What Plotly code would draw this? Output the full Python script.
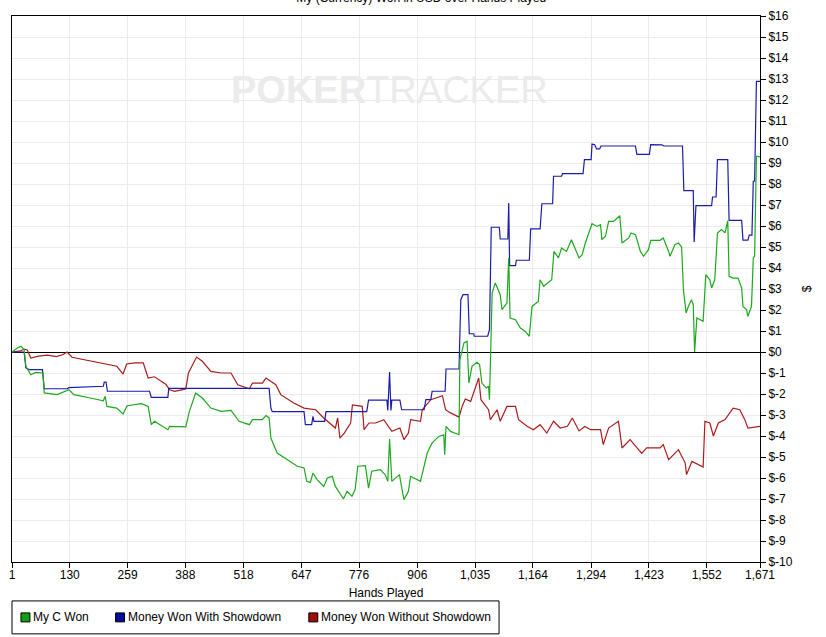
import plotly.graph_objects as go

# Hands played (x) and money won ($) per series
hands_total = [1, 13, 21, 28, 32, 43, 54, 65, 70, 73, 102, 128, 139, 176, 205, 209, 213, 235, 249, 258,
               290, 305, 312, 319, 349, 353, 367, 389, 397, 411, 426, 445, 468, 490, 508, 531, 538, 560,
               568, 575, 579, 593, 616, 638, 653, 659, 667, 673, 682, 697, 705, 716, 723, 741, 749, 760,
               767, 773, 790, 797, 804, 823, 834, 840, 844, 849, 866, 876, 886, 891, 913, 921, 928, 939,
               954, 965, 967, 970, 980, 999, 1001, 1010, 1017, 1021, 1028, 1039, 1045, 1050, 1060, 1065,
               1067, 1073, 1080, 1091, 1095, 1106, 1110, 1113, 1125, 1136, 1147, 1156, 1162, 1176, 1180,
               1188, 1206, 1211, 1221, 1228, 1239, 1250, 1259, 1267, 1274, 1281, 1296, 1307, 1315, 1318,
               1326, 1333, 1344, 1358, 1363, 1378, 1383, 1393, 1404, 1411, 1422, 1427, 1448, 1455, 1467,
               1470, 1481, 1489, 1496, 1500, 1506, 1511, 1518, 1522, 1525, 1530, 1544, 1550, 1559, 1563,
               1570, 1576, 1585, 1593, 1599, 1602, 1611, 1622, 1630, 1633, 1641, 1644, 1652, 1656, 1659,
               1663, 1671]
won_total = [0, 0.19, 0.27, 0.11, -0.68, -1.08, -0.97, -1.0, -1.0, -1.95, -2.03, -1.79, -2.03, -2.19,
             -2.32, -2.11, -2.59, -2.67, -2.95, -2.56, -2.46, -2.59, -3.46, -3.3, -3.7, -3.54, -3.54,
             -3.57, -2.83, -1.95, -2.19, -2.67, -2.83, -2.78, -3.3, -3.46, -3.22, -3.22, -3.03, -3.14,
             -4.1, -4.81, -5.13, -5.44, -5.52, -6.16, -6.21, -5.76, -6.08, -6.4, -6.0, -5.92, -6.4, -7.0,
             -6.63, -6.87, -6.56, -5.44, -5.41, -6.48, -5.68, -5.6, -5.84, -6.16, -4.14, -6.16, -5.84,
             -7.03, -6.63, -5.92, -6.16, -5.44, -4.81, -4.33, -4.02, -3.94, -4.89, -3.54, -3.78, -3.94,
             -0.37, 0.43, 0.51, -1.48, -0.68, -0.49, -0.6, -1.48, -1.71, -1.63, -2.27, 2.81, 3.29, 2.73,
             2.02, 2.33, 4.48, 1.62, 1.54, 1.14, 0.98, 0.75, 2.17, 2.41, 3.44, 3.13, 3.44, 4.79, 4.48,
             4.95, 4.79, 5.35, 4.87, 4.48, 4.63, 5.19, 6.11, 5.98, 6.06, 5.35, 5.51, 6.22, 6.22, 6.49,
             5.19, 5.43, 5.67, 5.59, 4.79, 4.56, 4.87, 5.32, 5.32, 5.43, 4.79, 4.56, 5.11, 5.19, 5.0,
             2.97, 1.86, 2.17, 2.49, 2.25, 0.0, 1.62, 1.46, 3.68, 3.44, 3.05, 3.44, 5.67, 5.83, 5.67,
             6.25, 3.6, 3.52, 3.52, 3.05, 2.17, 2.02, 1.7, 2.17, 4.48, 4.56, 9.32, 9.29]

hands_sd = [1, 28, 32, 39, 69, 73, 124, 128, 205, 207, 211, 214, 308, 312, 349, 351, 575, 579, 582, 653,
            656, 670, 673, 675, 699, 702, 793, 797, 838, 840, 844, 847, 849, 867, 871, 921, 925, 936,
            939, 968, 970, 999, 1003, 1008, 1019, 1022, 1032, 1033, 1063, 1067, 1071, 1089, 1091, 1108,
            1110, 1112, 1125, 1127, 1156, 1159, 1180, 1184, 1208, 1210, 1228, 1230, 1276, 1279, 1294,
            1296, 1302, 1306, 1313, 1316, 1393, 1396, 1424, 1427, 1452, 1457, 1498, 1501, 1522, 1524,
            1528, 1563, 1565, 1573, 1576, 1599, 1602, 1630, 1633, 1644, 1647, 1653, 1656, 1659, 1663,
            1671]
won_sd = [0, 0, -0.76, -0.84, -0.84, -1.75, -1.75, -1.7, -1.63, -1.43, -1.43, -1.87, -1.87, -2.16,
          -2.16, -1.73, -1.73, -2.67, -2.84, -2.84, -3.46, -3.46, -3.06, -3.3, -3.3, -2.84, -2.84,
          -2.29, -2.29, -2.78, -0.95, -2.78, -2.29, -2.29, -2.75, -2.75, -2.27, -2.27, -1.87, -1.87,
          -0.81, -0.81, 2.49, 2.73, 2.73, 0.87, 0.87, 0.75, 0.75, 1.06, 5.94, 5.94, 5.38, 5.38, 7.1,
          4.11, 4.11, 4.37, 4.37, 5.86, 5.86, 7.06, 7.06, 8.37, 8.37, 8.49, 8.49, 9.16, 9.16, 9.9,
          9.87, 9.67, 9.67, 9.81, 9.81, 9.41, 9.41, 9.87, 9.86, 9.81, 9.81, 7.68, 7.68, 5.24, 6.97,
          6.97, 7.38, 7.38, 9.16, 9.16, 6.27, 6.27, 5.33, 5.33, 5.57, 5.57, 8.13, 8.13, 12.89, 12.89]

hands_nsd = [1, 20, 28, 35, 43, 60, 80, 100, 115, 124, 135, 160, 176, 205, 235, 249, 257, 275, 294,
             305, 319, 345, 353, 364, 389, 395, 413, 426, 445, 468, 490, 505, 531, 538, 560, 568, 590,
             601, 630, 653, 679, 697, 716, 723, 728, 733, 743, 757, 761, 783, 787, 798, 813, 824, 831,
             849, 867, 876, 886, 891, 913, 917, 936, 962, 969, 980, 999, 1006, 1013, 1025, 1043, 1048,
             1065, 1069, 1084, 1091, 1106, 1125, 1132, 1151, 1165, 1180, 1195, 1210, 1225, 1241, 1252,
             1267, 1280, 1293, 1315, 1321, 1333, 1355, 1363, 1381, 1407, 1418, 1448, 1455, 1467, 1489,
             1504, 1507, 1519, 1544, 1548, 1559, 1567, 1578, 1593, 1611, 1626, 1637, 1644, 1671]
won_nsd = [0, 0.05, 0.14, 0.1, -0.29, -0.2, -0.15, -0.22, -0.12, 0.0, -0.25, -0.35, -0.45, -0.55,
           -0.68, -1.05, -0.57, -0.52, -0.52, -1.24, -1.18, -1.55, -1.8, -1.87, -1.76, -1.0, -0.24,
           -0.44, -0.92, -1.0, -1.0, -1.56, -1.75, -1.48, -1.48, -1.24, -1.56, -2.03, -2.43, -2.67,
           -2.75, -3.14, -3.46, -3.62, -3.14, -4.1, -3.86, -3.38, -2.52, -2.59, -3.7, -3.38, -3.38,
           -3.3, -3.22, -3.78, -3.62, -4.17, -3.86, -3.22, -3.3, -2.75, -2.27, -2.08, -2.75, -2.9,
           -3.1, -2.59, -2.24, -2.35, -1.24, -2.27, -2.75, -3.22, -2.75, -3.3, -2.59, -2.59, -3.22,
           -3.54, -3.7, -3.46, -3.86, -3.3, -3.62, -3.54, -3.14, -3.76, -3.55, -3.7, -3.7, -4.41,
           -3.62, -3.3, -4.57, -4.17, -4.83, -4.57, -4.57, -4.41, -5.13, -4.65, -5.29, -5.84, -5.21,
           -5.48, -3.3, -3.38, -4.0, -3.38, -3.22, -2.67, -2.75, -3.22, -3.62, -3.54]

x_ticks = [1, 130, 259, 388, 518, 647, 776, 906, 1035, 1164, 1294, 1423, 1552, 1671]
y_ticks = list(range(-10, 17))
y_labels = [f"${v}" for v in y_ticks]

GREEN = "#1DA81D"
BLUE = "#1C1CAA"
RED = "#AA1C1C"
FONT = "Liberation Sans, Arial, sans-serif"

# name, x, y, line colour, legend swatch colour
series = [
    ("My C Won", hands_total, won_total, GREEN, "#11A011"),
    ("Money Won With Showdown", hands_sd, won_sd, BLUE, "#0C0C9A"),
    ("Money Won Without Showdown", hands_nsd, won_nsd, RED, "#A00C0C"),
]

W, H = 826, 637
L, R, T, B = 9, 66, 15, 75
PW, PH = W - L - R, H - T - B


def px(x):
    return (x - L) / PW


def py(y):
    return (H - B - y) / PH


fig = go.Figure()

# draw order: red, blue, green on top
for name, xs, ys, col, _ in [series[2], series[1], series[0]]:
    fig.add_trace(go.Scatter(x=xs, y=ys, mode="lines", name=name,
                             line=dict(color=col, width=1.2), showlegend=False))

# watermark
fig.add_annotation(text="<b>POKER</b>TRACKER", xref="paper", yref="paper",
                   x=px(388), y=py(66), showarrow=False,
                   font=dict(family="Liberation Sans, Arial", size=38, color="#EBEBEB"))

# hand-built legend box (square swatches, tight spacing)
shapes = [dict(type="rect", xref="paper", yref="paper", x0=px(9), x1=px(498),
               y0=py(634), y1=py(601), line=dict(color="black", width=1), fillcolor="white")]
legend_x = [18, 113, 307]
for (name, _, _, _, sw), lx in zip(series, legend_x):
    shapes.append(dict(type="rect", xref="paper", yref="paper", x0=px(lx), x1=px(lx + 9),
                       y0=py(622), y1=py(613), line=dict(color="black", width=1), fillcolor=sw))
    fig.add_annotation(text=name, xref="paper", yref="paper", x=px(lx + 10), y=py(617.5),
                       xanchor="left", yanchor="middle", showarrow=False,
                       font=dict(size=12, color="black"))

fig.update_layout(
    width=W, height=H,
    margin=dict(l=L, r=R, t=T, b=B),
    paper_bgcolor="white", plot_bgcolor="white",
    font=dict(family=FONT, size=12, color="black"),
    title=dict(text="My (Currency) Won in USD over Hands Played", x=0.51, xanchor="center",
               xref="container", y=0.9975, yref="container", yanchor="bottom",
               font=dict(size=12, color="black")),
    xaxis=dict(range=[1, 1671], tickvals=x_ticks, tickformat=",", showgrid=True,
               gridcolor="#EBEBEB", gridwidth=1, zeroline=False, showline=True,
               linecolor="black", linewidth=1, mirror=True, ticks="outside",
               ticklen=5, tickcolor="black", ticklabelstandoff=-3,
               title=dict(text="Hands Played", standoff=7, font=dict(size=12))),
    yaxis=dict(range=[-10, 16], side="right", tickvals=y_ticks, ticktext=y_labels,
               showgrid=True, gridcolor="#EBEBEB", gridwidth=1, zeroline=True,
               zerolinecolor="black", zerolinewidth=1,
               showline=True, linecolor="black", linewidth=1, mirror=True,
               ticks="outside", ticklen=5, tickcolor="black",
               title=dict(text="$", standoff=10, font=dict(size=12))),
    shapes=shapes,
    showlegend=False,
)

fig.write_html("out.html", config={"displayModeBar": False},
               post_script="document.body.style.margin='0px';")
